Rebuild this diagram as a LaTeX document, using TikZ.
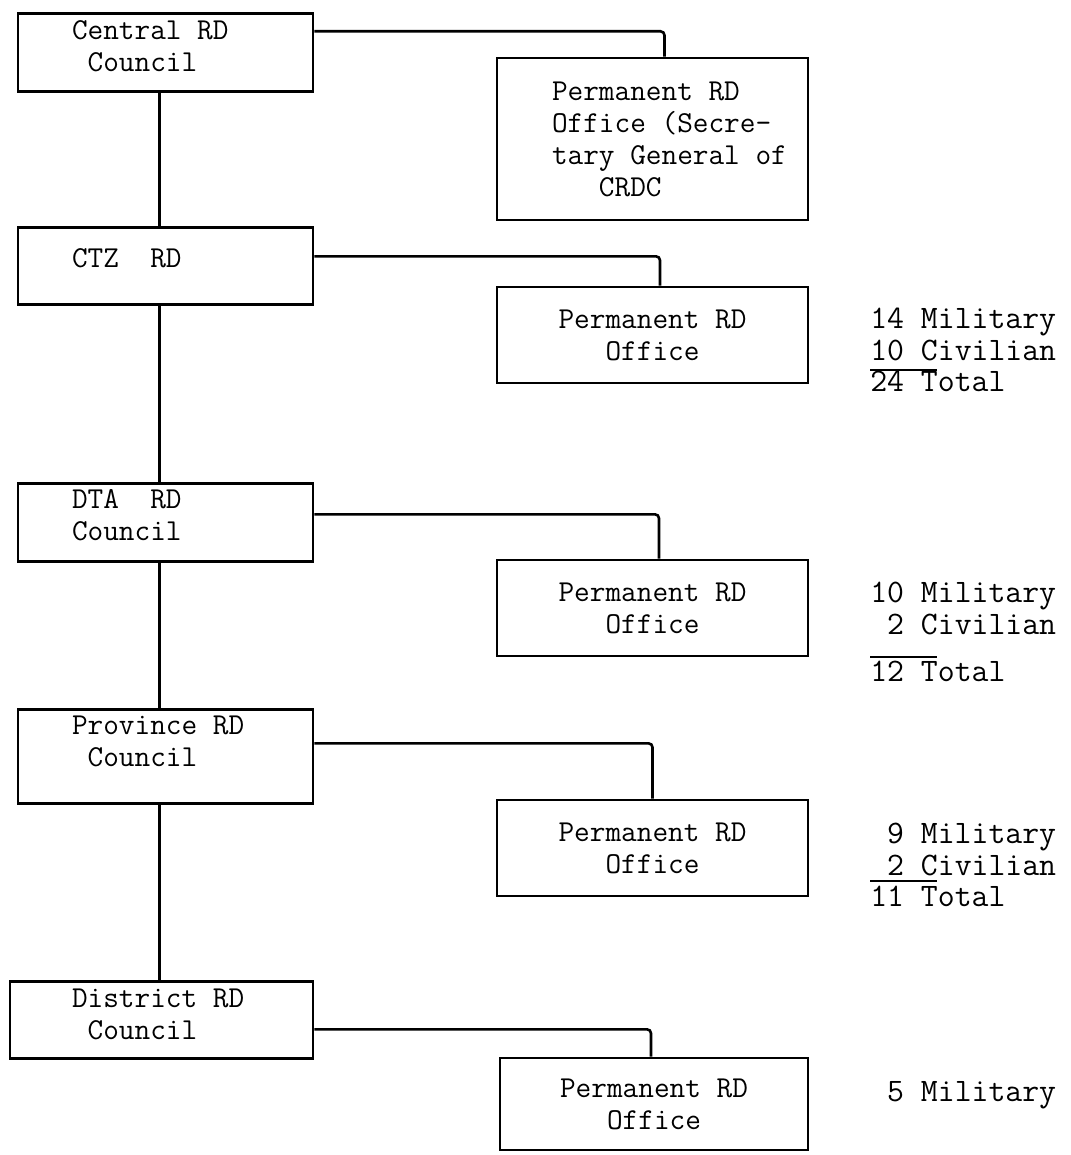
\documentclass[tikz,border=0pt]{standalone}
\newcommand{\typefont}[1]{\ttfamily\fontsize{#1}{16}\selectfont
  \spaceskip=\fontdimen2\font\xspaceskip=\fontdimen2\font}
\newcommand{\secindent}{\hspace*{19.75pt}}
\begin{document}
\begin{tikzpicture}[x=0.5pt, y=-0.5pt, line width=1.3pt,
  council/.style={draw, anchor=north, align=flush left, text width=93.5pt,
    inner xsep=27pt, inner ysep=0pt, font=\typefont{15.2}},
  office/.style={draw, align=center, minimum width=155.5pt, minimum height=48pt,
    font=\typefont{15.2}},
  count/.style={anchor=base west, inner sep=0pt, font=\typefont{16.4}}]
  \useasboundingbox (0,0) rectangle (1070,1155);

  % left column: councils
  \node[council, text height=13pt, text depth=26pt] (cen) at (165.5,12)
       {Central RD\\~Council};
  \node[council, text height=20pt, text depth=18.5pt] (ctz) at (165.5,226)
       {CTZ~~RD};
  \node[council, text height=12.5pt, text depth=26.5pt] (dta) at (165.5,482)
       {DTA~~RD\\Council};
  \node[council, text height=12.5pt, text depth=34.5pt] (prov) at (165.5,708)
       {Province RD\\~Council};
  \node[council, text height=13pt, text depth=25.5pt, text width=89.5pt,
        inner xsep=31pt] (dist) at (161.5,980)
       {District RD\\~Council};

  % right column: permanent offices
  \node[office, minimum height=81pt, align=flush left, text width=140pt,
        inner xsep=7.75pt] (pcen) at (652.5,139)
       {\secindent Permanent RD\\\secindent Office (Secre-\\
        \secindent tary General of\\\secindent~~~CRDC};
  \node[office] (pctz)  at (652.5,335)  {Permanent RD\\Office};
  \node[office] (pdta)  at (652.5,608)  {Permanent RD\\Office};
  \node[office] (pprov) at (652.5,848)  {Permanent RD\\Office};
  \node[office, minimum width=154pt, minimum height=46pt] (pdist) at (654,1104)
       {Permanent RD\\Office};

  % staff counts
  \node[count] (mil1) at (869,328) {14 Military};
  \node[count] (civ1) at (869,360) {10 Civilian};
  \node[count] (tot1) at (869,391) {24 Total};
  \node[count] (mil2) at (869,602) {10 Military};
  \node[count] (civ2) at (869,634) {~2 Civilian};
  \node[count] (tot2) at (869,681) {12 Total};
  \node[count] (mil3) at (869,843) {~9 Military};
  \node[count] (civ3) at (869,875) {~2 Civilian};
  \node[count] (tot3) at (869,906) {11 Total};
  \node[count] (mil4) at (869,1101) {~5 Military};

  \draw[line width=1pt] (870,370) -- (937,370)
                        (870,657) -- (937,657)
                        (870,881) -- (937,881);

  % chain of councils
  \draw ([xshift=-3pt]cen.south)  -- ([xshift=-3pt]ctz.north)
        ([xshift=-3pt]ctz.south)  -- ([xshift=-3pt]dta.north)
        ([xshift=-3pt]dta.south)  -- ([xshift=-3pt]prov.north)
        ([xshift=-3pt]prov.south) -- ([xshift=-3pt]prov.south |- dist.north);

  % council to office
  \draw[rounded corners=2pt]
        ([yshift=10.5pt]cen.east) -| ([xshift=6pt]pcen.north)
        ([yshift=4.75pt]ctz.east) -| ([xshift=3.75pt]pctz.north)
        ([yshift=4pt]dta.east)    -| ([xshift=3.25pt]pdta.north)
        ([yshift=6.5pt]prov.east) -| (pprov.north)
        ([yshift=-4.75pt]dist.east) -| ([xshift=-1.5pt]pdist.north);
\end{tikzpicture}
\end{document}
